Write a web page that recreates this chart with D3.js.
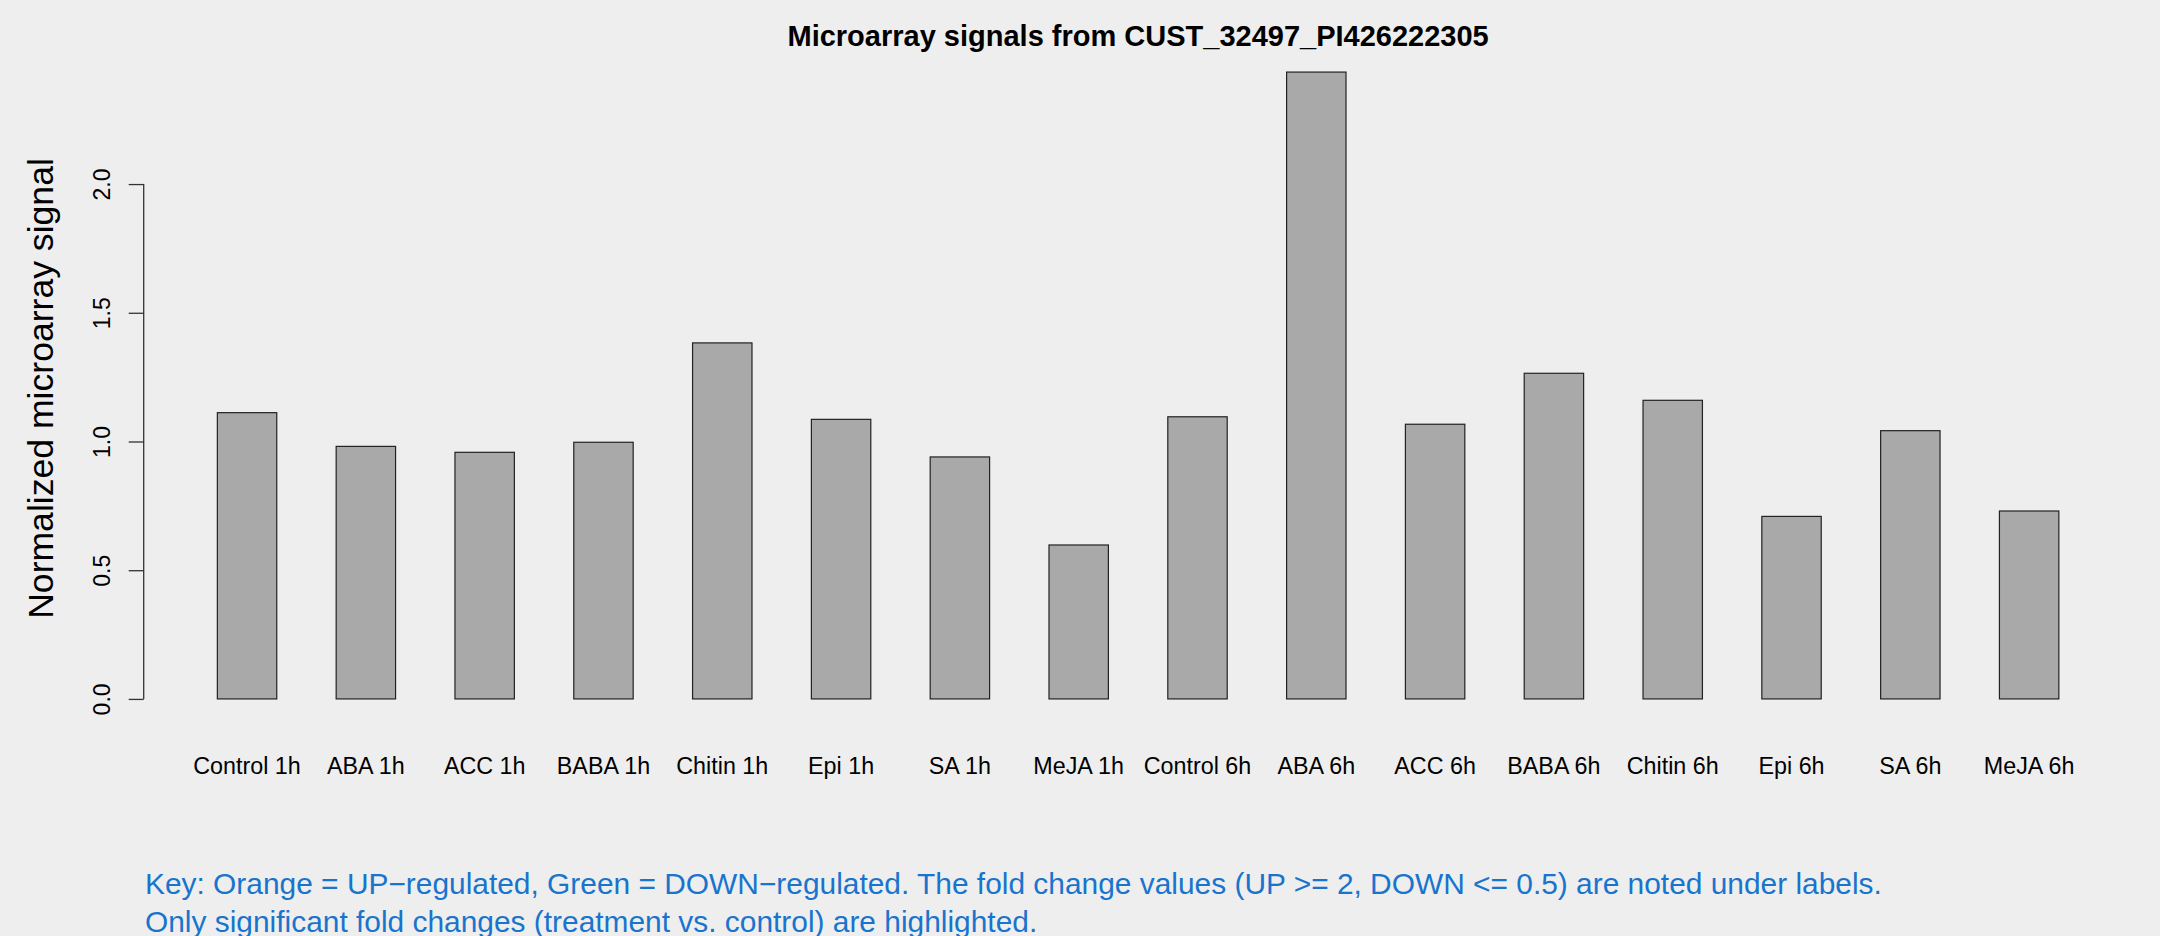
<!DOCTYPE html>
<html>
<head>
<meta charset="utf-8">
<script src="https://cdn.jsdelivr.net/npm/d3@7"></script>
<style>
  html, body { margin: 0; padding: 0; background: #eeeeee; }
  svg { display: block; }
  text { font-family: "Liberation Sans", Arial, Helvetica, sans-serif; }
</style>
</head>
<body>
<script>
const categories = ["Control 1h", "ABA 1h", "ACC 1h", "BABA 1h", "Chitin 1h", "Epi 1h", "SA 1h", "MeJA 1h",
                    "Control 6h", "ABA 6h", "ACC 6h", "BABA 6h", "Chitin 6h", "Epi 6h", "SA 6h", "MeJA 6h"];
const values = [1.112, 0.981, 0.958, 0.997, 1.383, 1.086, 0.940, 0.598,
                1.096, 2.435, 1.067, 1.265, 1.160, 0.709, 1.042, 0.730];
const yTicks = [0.0, 0.5, 1.0, 1.5, 2.0];
const title = "Microarray signals from CUST_32497_PI426222305";
const yLabel = "Normalized microarray signal";
const keyLines = [
  "Key: Orange = UP\u2212regulated, Green = DOWN\u2212regulated. The fold change values (UP >= 2, DOWN <= 0.5) are noted under labels.",
  "Only significant fold changes (treatment vs. control) are highlighted."
];

const W = 2160, H = 936;
const svg = d3.select("body").append("svg").attr("width", W).attr("height", H);
svg.append("rect").attr("width", W).attr("height", H).attr("fill", "#eeeeee");

// R barplot-like geometry: width 1, space 1 -> bar i spans [2i+1, 2i+2]
const n = values.length;
const xMin = 1, xMax = 2 * n;
const xPad = (xMax - xMin) * 0.04;
const plotLeft = 143.7, plotRight = 2132.5, plotTop = 47, plotBottom = 724;
const x = d3.scaleLinear().domain([xMin - xPad, xMax + xPad]).range([plotLeft, plotRight]);
const yMaxV = d3.max(values);
const y = d3.scaleLinear().domain([-0.04 * yMaxV, 1.04 * yMaxV]).range([plotBottom, plotTop]);

// bars
svg.append("g").selectAll("rect").data(values).join("rect")
  .attr("x", (d, i) => x(2 * i + 1))
  .attr("width", (d, i) => x(2 * i + 2) - x(2 * i + 1))
  .attr("y", d => y(d))
  .attr("height", d => y(0) - y(d))
  .attr("fill", "#a9a9a9")
  .attr("stroke", "#222")
  .attr("stroke-width", 1.2);

// y axis
const yAxis = d3.axisLeft(y).tickValues(yTicks).tickSize(15).tickFormat(d3.format(".1f"));
const gy = svg.append("g").attr("transform", `translate(${plotLeft},0)`).call(yAxis);
gy.select(".domain").remove();
gy.append("line").attr("x1", 0).attr("x2", 0).attr("y1", y(0)).attr("y2", y(2.0))
  .attr("stroke", "#333").attr("stroke-width", 1.3);
gy.selectAll(".tick line").attr("stroke", "#333").attr("stroke-width", 1.3);
gy.selectAll(".tick text")
  .attr("x", null).attr("dy", null)
  .attr("text-anchor", "middle")
  .attr("transform", "translate(-34,0) rotate(-90)")
  .attr("font-size", 23)
  .attr("font-family", "Liberation Sans, Arial, sans-serif")
  .attr("fill", "#000");

// x labels
svg.append("g").selectAll("text").data(categories).join("text")
  .attr("x", (d, i) => x(2 * i + 1.5))
  .attr("y", 774)
  .attr("text-anchor", "middle")
  .attr("font-size", 23.3)
  .attr("fill", "#000")
  .text(d => d);

// title
svg.append("text")
  .attr("x", (plotLeft + plotRight) / 2)
  .attr("y", 46)
  .attr("text-anchor", "middle")
  .attr("font-size", 29)
  .attr("font-weight", "bold")
  .attr("fill", "#000")
  .text(title);

// y label
svg.append("text")
  .attr("transform", `translate(53,${(plotTop + plotBottom) / 2 + 3}) rotate(-90)`)
  .attr("text-anchor", "middle")
  .attr("font-size", 35.6)
  .attr("fill", "#000")
  .text(yLabel);

// key text
svg.append("g").selectAll("text").data(keyLines).join("text")
  .attr("x", 145)
  .attr("y", (d, i) => 894 + i * 37.5)
  .attr("font-size", 29.9)
  .attr("fill", "#1874cd")
  .text(d => d);
</script>
</body>
</html>
